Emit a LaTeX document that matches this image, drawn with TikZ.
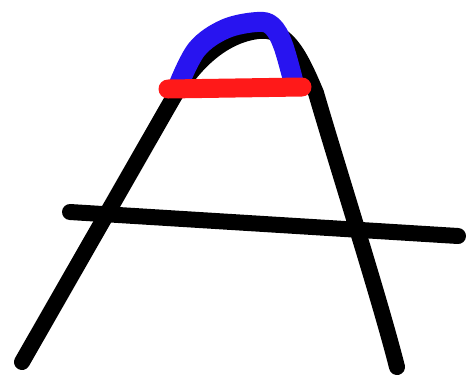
\documentclass[tikz,border=0pt]{standalone}
\usepackage{xcolor}
\usepackage{tikz}
\definecolor{inkblack}{RGB}{0,0,0}
\definecolor{capblue}{RGB}{40,20,240}
\definecolor{barred}{RGB}{255,25,25}
\begin{document}
\begin{tikzpicture}[
  x=1bp, y=-1bp,
  pen/.style={line width=16bp, line cap=round, line join=round, inkblack},
  capstroke/.style={line width=20bp, line cap=round, line join=round, capblue},
  barstroke/.style={line width=19bp, line cap=round, barred},
]
\useasboundingbox (0,0) rectangle (466,377);
% the A: legs and top
\draw[pen] (22,362) -- (172,100)
  .. controls (195,60) and (225,35) .. (258,31)
  .. controls (285,28) and (298,50) .. (316,93)
  .. controls (340,175) and (380,300) .. (397,367);
% cross bar
\draw[pen] (70,212) -- (458,236);
% blue cap over the top
\draw[capstroke] plot[smooth, tension=0.6] coordinates {
  (179,84) (197,49) (225,29) (257,22) (272,26) (283,45) (294,84)};
% red bar
\draw[barstroke] (168,89) -- (302,87);
\end{tikzpicture}
\end{document}
